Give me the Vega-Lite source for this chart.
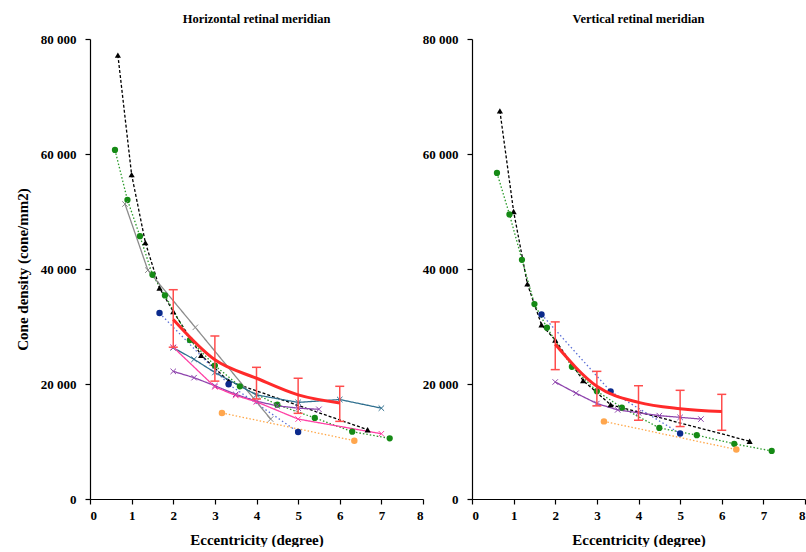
{
  "$schema": "https://vega.github.io/schema/vega-lite/v6.json",
  "padding": {"left": 15, "top": 12, "right": 0, "bottom": 0},
  "spacing": 49,
  "bounds": "flush",
  "datasets": {
    "curves": [
      {"panel":"H","series":"tri","x":0.67,"y":77200},{"panel":"H","series":"tri","x":1.0,"y":56400},{"panel":"H","series":"tri","x":1.33,"y":44600},{"panel":"H","series":"tri","x":1.67,"y":36700},{"panel":"H","series":"tri","x":2.0,"y":32600},{"panel":"H","series":"tri","x":2.67,"y":25000},{"panel":"H","series":"tri","x":3.33,"y":20500},{"panel":"H","series":"tri","x":6.67,"y":12050},
      {"panel":"H","series":"green","x":0.6,"y":60700},{"panel":"H","series":"green","x":0.9,"y":52000},{"panel":"H","series":"green","x":1.2,"y":45700},{"panel":"H","series":"green","x":1.5,"y":39000},{"panel":"H","series":"green","x":1.8,"y":35400},{"panel":"H","series":"green","x":2.4,"y":27650},{"panel":"H","series":"green","x":3.0,"y":23200},{"panel":"H","series":"green","x":3.6,"y":19600},{"panel":"H","series":"green","x":4.5,"y":16400},{"panel":"H","series":"green","x":5.4,"y":14100},{"panel":"H","series":"green","x":6.3,"y":11700},{"panel":"H","series":"green","x":7.2,"y":10550},
      {"panel":"H","series":"blue","x":1.67,"y":32350},{"panel":"H","series":"blue","x":3.33,"y":19950},{"panel":"H","series":"blue","x":5.0,"y":11650},
      {"panel":"H","series":"orange","x":3.17,"y":14960},{"panel":"H","series":"orange","x":6.35,"y":10150},
      {"panel":"H","series":"gray","x":0.84,"y":51300},{"panel":"H","series":"gray","x":1.39,"y":39800},{"panel":"H","series":"gray","x":2.53,"y":29850},{"panel":"H","series":"gray","x":4.34,"y":13900},
      {"panel":"H","series":"steel","x":2.0,"y":26300},{"panel":"H","series":"steel","x":2.5,"y":24300},{"panel":"H","series":"steel","x":3.0,"y":22000},{"panel":"H","series":"steel","x":4.0,"y":18100},{"panel":"H","series":"steel","x":5.0,"y":16800},{"panel":"H","series":"steel","x":6.0,"y":17300},{"panel":"H","series":"steel","x":7.0,"y":15800},
      {"panel":"H","series":"purple","x":2.0,"y":22200},{"panel":"H","series":"purple","x":2.5,"y":21100},{"panel":"H","series":"purple","x":3.0,"y":19700},{"panel":"H","series":"purple","x":3.5,"y":18200},{"panel":"H","series":"purple","x":4.0,"y":17000},{"panel":"H","series":"purple","x":4.5,"y":16200},{"panel":"H","series":"purple","x":5.0,"y":15800},{"panel":"H","series":"purple","x":5.5,"y":15600},
      {"panel":"H","series":"pink","x":2.0,"y":26400},{"panel":"H","series":"pink","x":3.0,"y":19500},{"panel":"H","series":"pink","x":3.5,"y":18000},{"panel":"H","series":"pink","x":4.0,"y":16900},{"panel":"H","series":"pink","x":5.0,"y":13900},{"panel":"H","series":"pink","x":7.0,"y":11350},
      {"panel":"V","series":"tri","x":0.67,"y":67500},{"panel":"V","series":"tri","x":1.0,"y":50000},{"panel":"V","series":"tri","x":1.33,"y":37400},{"panel":"V","series":"tri","x":1.67,"y":30300},{"panel":"V","series":"tri","x":2.0,"y":27650},{"panel":"V","series":"tri","x":2.67,"y":20600},{"panel":"V","series":"tri","x":3.33,"y":16400},{"panel":"V","series":"tri","x":6.67,"y":10050},
      {"panel":"V","series":"green","x":0.6,"y":56700},{"panel":"V","series":"green","x":0.9,"y":49500},{"panel":"V","series":"green","x":1.2,"y":41600},{"panel":"V","series":"green","x":1.5,"y":33900},{"panel":"V","series":"green","x":1.8,"y":29800},{"panel":"V","series":"green","x":2.4,"y":23000},{"panel":"V","series":"green","x":3.0,"y":18750},{"panel":"V","series":"green","x":3.6,"y":15900},{"panel":"V","series":"green","x":4.5,"y":12350},{"panel":"V","series":"green","x":5.4,"y":11100},{"panel":"V","series":"green","x":6.3,"y":9600},{"panel":"V","series":"green","x":7.2,"y":8350},
      {"panel":"V","series":"blue","x":1.67,"y":32100},{"panel":"V","series":"blue","x":3.33,"y":18700},{"panel":"V","series":"blue","x":5.0,"y":11400},
      {"panel":"V","series":"orange","x":3.17,"y":13500},{"panel":"V","series":"orange","x":6.35,"y":8600},
      {"panel":"V","series":"purple","x":2.0,"y":20350},{"panel":"V","series":"purple","x":2.5,"y":18400},{"panel":"V","series":"purple","x":3.0,"y":16600},{"panel":"V","series":"purple","x":3.5,"y":15500},{"panel":"V","series":"purple","x":4.0,"y":15000},{"panel":"V","series":"purple","x":4.5,"y":14500},{"panel":"V","series":"purple","x":5.0,"y":14200},{"panel":"V","series":"purple","x":5.5,"y":13900}
    ],
    "mean": [
      {"panel":"H","x":2,"y":31200,"lo":26400,"hi":36400},{"panel":"H","x":3,"y":24200,"lo":20500,"hi":28350},{"panel":"H","x":4,"y":21000,"lo":17400,"hi":22900},{"panel":"H","x":5,"y":18100,"lo":14900,"hi":21000},{"panel":"H","x":6,"y":16700,"lo":13500,"hi":19600},
      {"panel":"V","x":2,"y":26900,"lo":22500,"hi":30800},{"panel":"V","x":3,"y":19600,"lo":16200,"hi":22200},{"panel":"V","x":4,"y":16800,"lo":13700,"hi":19700},{"panel":"V","x":5,"y":15700,"lo":12600,"hi":18900},{"panel":"V","x":6,"y":15200,"lo":11950,"hi":18200}
    ]
  },
  "hconcat": [
    {
      "width": 333, "height": 460,
      "title": {"text": "Horizontal retinal meridian", "fontSize": 12.5, "fontWeight": "bold", "font": "Liberation Serif", "offset": 8},
      "layer": [
        {"data": {"name": "curves"}, "transform": [{"filter": "datum.panel === 'H'"}],
         "mark": {"type": "line", "strokeWidth": 1.3},
         "encoding": {
           "x": {"field": "x", "type": "quantitative", "scale": {"domain": [0, 8], "nice": false}, "axis": {"title": "Eccentricity (degree)", "values": [0,1,2,3,4,5,6,7,8]}},
           "y": {"field": "y", "type": "quantitative", "scale": {"domain": [0, 80000], "nice": false}, "axis": {"title": "Cone density (cone/mm2)", "values": [0,20000,40000,60000,80000], "labelExpr": "replace(format(datum.value, ','), ',', ' ')"}},
           "stroke": {"field": "series", "type": "nominal", "legend": null, "scale": {"domain": ["tri","green","blue","orange","gray","steel","purple","pink"], "range": ["#000000","#2a9a2a","#5b6fd6","#ffa84a","#8c8c8c","#2f6f8f","#8e44ad","#ff3fa4"]}},
           "strokeDash": {"field": "series", "type": "nominal", "legend": null, "scale": {"domain": ["tri","green","blue","orange","gray","steel","purple","pink"], "range": [[3,2],[1.5,2],[1.5,2.5],[1.5,2],[1,0],[1,0],[1,0],[1,0]]}}
         }},
        {"data": {"name": "curves"}, "transform": [{"filter": "datum.panel === 'H' && indexof(['tri','green','blue','orange'], datum.series) >= 0"}],
         "mark": {"type": "point", "filled": true, "opacity": 1},
         "encoding": {
           "x": {"field": "x", "type": "quantitative"},
           "y": {"field": "y", "type": "quantitative"},
           "shape": {"field": "series", "type": "nominal", "legend": null, "scale": {"domain": ["tri","green","blue","orange"], "range": ["triangle-up","circle","circle","circle"]}},
           "fill": {"field": "series", "type": "nominal", "legend": null, "scale": {"domain": ["tri","green","blue","orange"], "range": ["#000000","#158a15","#0b2a8c","#ffa64d"]}},
           "size": {"field": "series", "type": "nominal", "legend": null, "scale": {"domain": ["tri","green","blue","orange"], "range": [38, 42, 42, 42]}}
         }},
        {"data": {"name": "curves"}, "transform": [{"filter": "datum.panel === 'H' && indexof(['gray','steel','purple','pink'], datum.series) >= 0"}],
         "mark": {"type": "point", "shape": "M-1,-1L1,1M-1,1L1,-1", "filled": false, "size": 30, "strokeWidth": 1, "opacity": 1},
         "encoding": {
           "x": {"field": "x", "type": "quantitative"},
           "y": {"field": "y", "type": "quantitative"},
           "stroke": {"field": "series", "type": "nominal", "legend": null}
         }},
        {"data": {"name": "mean"}, "transform": [{"filter": "datum.panel === 'H'"}],
         "mark": {"type": "rule", "color": "#ff4d4d", "strokeWidth": 1.5},
         "encoding": {"x": {"field": "x", "type": "quantitative"}, "y": {"field": "lo", "type": "quantitative"}, "y2": {"field": "hi"}}},
        {"data": {"name": "mean"}, "transform": [{"filter": "datum.panel === 'H'"}],
         "mark": {"type": "tick", "orient": "horizontal", "color": "#ff4d4d", "size": 9, "thickness": 1.5, "opacity": 1},
         "encoding": {"x": {"field": "x", "type": "quantitative"}, "y": {"field": "lo", "type": "quantitative"}}},
        {"data": {"name": "mean"}, "transform": [{"filter": "datum.panel === 'H'"}],
         "mark": {"type": "tick", "orient": "horizontal", "color": "#ff4d4d", "size": 9, "thickness": 1.5, "opacity": 1},
         "encoding": {"x": {"field": "x", "type": "quantitative"}, "y": {"field": "hi", "type": "quantitative"}}},
        {"data": {"name": "mean"}, "transform": [{"filter": "datum.panel === 'H'"}],
         "mark": {"type": "line", "color": "#ff2a2a", "strokeWidth": 3, "interpolate": "monotone"},
         "encoding": {"x": {"field": "x", "type": "quantitative"}, "y": {"field": "y", "type": "quantitative"}}}
      ]
    },
    {
      "width": 333, "height": 460,
      "title": {"text": "Vertical retinal meridian", "fontSize": 12.5, "fontWeight": "bold", "font": "Liberation Serif", "offset": 8},
      "layer": [
        {"data": {"name": "curves"}, "transform": [{"filter": "datum.panel === 'V'"}],
         "mark": {"type": "line", "strokeWidth": 1.3},
         "encoding": {
           "x": {"field": "x", "type": "quantitative", "scale": {"domain": [0, 8], "nice": false}, "axis": {"title": "Eccentricity (degree)", "values": [0,1,2,3,4,5,6,7,8]}},
           "y": {"field": "y", "type": "quantitative", "scale": {"domain": [0, 80000], "nice": false}, "axis": {"title": null, "values": [0,20000,40000,60000,80000], "labelExpr": "replace(format(datum.value, ','), ',', ' ')"}},
           "stroke": {"field": "series", "type": "nominal", "legend": null, "scale": {"domain": ["tri","green","blue","orange","gray","steel","purple","pink"], "range": ["#000000","#2a9a2a","#5b6fd6","#ffa84a","#8c8c8c","#2f6f8f","#8e44ad","#ff3fa4"]}},
           "strokeDash": {"field": "series", "type": "nominal", "legend": null, "scale": {"domain": ["tri","green","blue","orange","gray","steel","purple","pink"], "range": [[3,2],[1.5,2],[1.5,2.5],[1.5,2],[1,0],[1,0],[1,0],[1,0]]}}
         }},
        {"data": {"name": "curves"}, "transform": [{"filter": "datum.panel === 'V' && indexof(['tri','green','blue','orange'], datum.series) >= 0"}],
         "mark": {"type": "point", "filled": true, "opacity": 1},
         "encoding": {
           "x": {"field": "x", "type": "quantitative"},
           "y": {"field": "y", "type": "quantitative"},
           "shape": {"field": "series", "type": "nominal", "legend": null, "scale": {"domain": ["tri","green","blue","orange"], "range": ["triangle-up","circle","circle","circle"]}},
           "fill": {"field": "series", "type": "nominal", "legend": null, "scale": {"domain": ["tri","green","blue","orange"], "range": ["#000000","#158a15","#0b2a8c","#ffa64d"]}},
           "size": {"field": "series", "type": "nominal", "legend": null, "scale": {"domain": ["tri","green","blue","orange"], "range": [38, 42, 42, 42]}}
         }},
        {"data": {"name": "curves"}, "transform": [{"filter": "datum.panel === 'V' && indexof(['gray','steel','purple','pink'], datum.series) >= 0"}],
         "mark": {"type": "point", "shape": "M-1,-1L1,1M-1,1L1,-1", "filled": false, "size": 30, "strokeWidth": 1, "opacity": 1},
         "encoding": {
           "x": {"field": "x", "type": "quantitative"},
           "y": {"field": "y", "type": "quantitative"},
           "stroke": {"field": "series", "type": "nominal", "legend": null}
         }},
        {"data": {"name": "mean"}, "transform": [{"filter": "datum.panel === 'V'"}],
         "mark": {"type": "rule", "color": "#ff4d4d", "strokeWidth": 1.5},
         "encoding": {"x": {"field": "x", "type": "quantitative"}, "y": {"field": "lo", "type": "quantitative"}, "y2": {"field": "hi"}}},
        {"data": {"name": "mean"}, "transform": [{"filter": "datum.panel === 'V'"}],
         "mark": {"type": "tick", "orient": "horizontal", "color": "#ff4d4d", "size": 9, "thickness": 1.5, "opacity": 1},
         "encoding": {"x": {"field": "x", "type": "quantitative"}, "y": {"field": "lo", "type": "quantitative"}}},
        {"data": {"name": "mean"}, "transform": [{"filter": "datum.panel === 'V'"}],
         "mark": {"type": "tick", "orient": "horizontal", "color": "#ff4d4d", "size": 9, "thickness": 1.5, "opacity": 1},
         "encoding": {"x": {"field": "x", "type": "quantitative"}, "y": {"field": "hi", "type": "quantitative"}}},
        {"data": {"name": "mean"}, "transform": [{"filter": "datum.panel === 'V'"}],
         "mark": {"type": "line", "color": "#ff2a2a", "strokeWidth": 3, "interpolate": "monotone"},
         "encoding": {"x": {"field": "x", "type": "quantitative"}, "y": {"field": "y", "type": "quantitative"}}}
      ]
    }
  ],
  "config": {
    "font": "Liberation Serif",
    "view": {"stroke": null},
    "axis": {
      "grid": false,
      "domainColor": "#000000", "domainWidth": 1.2,
      "tickColor": "#000000", "tickSize": 5, "tickWidth": 1.2,
      "labelFont": "Liberation Serif", "labelFontSize": 13, "labelFontWeight": "bold", "labelColor": "#000000",
      "titleFont": "Liberation Serif", "titleFontSize": 15, "titleFontWeight": "bold", "titleColor": "#000000"
    },
    "axisX": {"labelPadding": 5, "titlePadding": 10},
    "axisY": {"labelPadding": 9, "titlePadding": 10}
  }
}
